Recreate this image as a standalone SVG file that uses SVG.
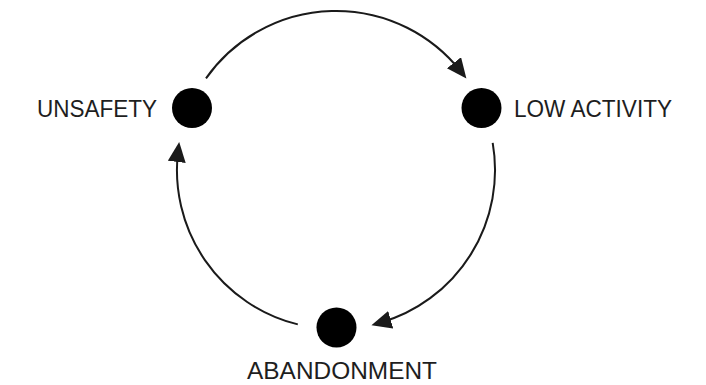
<svg xmlns="http://www.w3.org/2000/svg" width="706" height="385" viewBox="0 0 706 385">
<style>
.node{fill:#000;}
.lbl{font-family:"Liberation Sans",Arial,sans-serif;font-size:24px;fill:#1e1e1e;}
.arc{fill:none;stroke:#1a1a1a;stroke-width:2;}
</style>
<defs>
<marker id="ah" markerUnits="userSpaceOnUse" markerWidth="22" markerHeight="20" refX="11" refY="9" orient="auto">
<path d="M0,0 L20,9 L0,18 z" fill="#1a1a1a"/>
</marker>
</defs>
<rect width="706" height="385" fill="#fff"/>
<g id="connectors">
<path class="arc" d="M206,78.4 A159,159 0 0 1 460.8,71.4" marker-end="url(#ah)"/>
<path class="arc" d="M492.7,142.9 A159,159 0 0 1 380.1,322.8" marker-end="url(#ah)"/>
<path class="arc" d="M297.8,324.4 A159,159 0 0 1 178.1,150.9" marker-end="url(#ah)"/>
</g>
<g id="unsafety">
<circle class="node" cx="192" cy="108" r="20"/>
<text class="lbl" x="37" y="117" textLength="120" lengthAdjust="spacingAndGlyphs">UNSAFETY</text>
</g>
<g id="low-activity">
<circle class="node" cx="481.5" cy="108" r="20"/>
<text class="lbl" x="514" y="117" textLength="158" lengthAdjust="spacingAndGlyphs">LOW ACTIVITY</text>
</g>
<g id="abandonment">
<circle class="node" cx="336.5" cy="327.5" r="20"/>
<text class="lbl" x="247" y="379" style="font-size:23px" textLength="190" lengthAdjust="spacingAndGlyphs">ABANDONMENT</text>
</g>
</svg>
